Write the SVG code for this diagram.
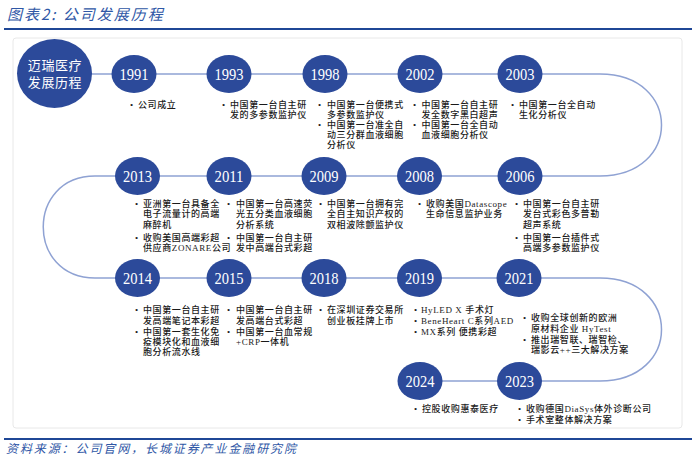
<svg xmlns="http://www.w3.org/2000/svg" width="700" height="464" viewBox="0 0 700 464">
<style>
.title{font-family:"Noto Sans CJK SC",sans-serif;font-style:italic;fill:#2f57a6;}
.node{fill:#2c4a9a;}
.yr{font-family:"Liberation Serif","DejaVu Serif",serif;font-size:17px;fill:#fff;text-anchor:middle;}
.t{font-family:"Liberation Serif","Noto Sans CJK SC",serif;font-size:9px;letter-spacing:0.6px;fill:#1a1a1a;font-weight:500;}
.conn{fill:none;stroke:#8fa2d3;stroke-width:1.5;}
</style>
<rect x="0" y="0" width="700" height="464" fill="#fff"/>
<text class="title" x="7" y="20" font-size="15" letter-spacing="2">图表2:  公司发展历程</text>
<line x1="4" y1="29" x2="692" y2="29" stroke="#1f4796" stroke-width="2"/>
<rect x="13" y="38" width="669" height="390" rx="3" fill="#fff" stroke="#e8e8e8" stroke-width="1"/>
<line x1="4" y1="439" x2="692" y2="439" stroke="#1f4796" stroke-width="2"/>
<text class="title" x="6" y="453" font-size="12" letter-spacing="1.9">资料来源：公司官网，长城证券产业金融研究院</text>

<g id="connectors">
<path class="conn" d="M54 74 L600 74 C682 74 682 176 600 176 L95 176 C26 176 26 278 95 278 L600 278 C682 278 682 381 600 381 L420 381"/>
</g>

<g id="start">
<ellipse class="node" cx="54.5" cy="73.5" rx="37.5" ry="34.5"/>
<text x="55" y="69.5" font-family="Liberation Serif,Noto Sans CJK SC,serif" font-size="13" letter-spacing="0.6" fill="#fff" text-anchor="middle">迈瑞医疗</text>
<text x="55" y="87" font-family="Liberation Serif,Noto Sans CJK SC,serif" font-size="13" letter-spacing="0.6" fill="#fff" text-anchor="middle">发展历程</text>
</g>

<g id="y1991">
<ellipse class="node" cx="134" cy="74" rx="22.5" ry="19"/>
<text class="yr" x="134" y="80" textLength="29" lengthAdjust="spacingAndGlyphs">1991</text>
<text class="t"><tspan x="130" y="107.5">•</tspan><tspan x="138">公司成立</tspan></text>
</g>
<g id="y1993">
<ellipse class="node" cx="229" cy="74" rx="22.5" ry="19"/>
<text class="yr" x="229" y="80" textLength="29" lengthAdjust="spacingAndGlyphs">1993</text>
<text class="t"><tspan x="222" y="107.5">•</tspan><tspan x="230">中国第一台自主研</tspan><tspan x="230" y="117.7">发的多参数监护仪</tspan></text>
</g>
<g id="y1998">
<ellipse class="node" cx="325" cy="74" rx="22.5" ry="19"/>
<text class="yr" x="325" y="80" textLength="29" lengthAdjust="spacingAndGlyphs">1998</text>
<text class="t"><tspan x="318" y="107.5">•</tspan><tspan x="327">中国第一台便携式</tspan><tspan x="327" y="117.7">多参数监护仪</tspan><tspan x="318" y="127.9">•</tspan><tspan x="327">中国第一台准全自</tspan><tspan x="327" y="138.1">动三分群血液细胞</tspan><tspan x="327" y="148.3">分析仪</tspan></text>
</g>
<g id="y2002">
<ellipse class="node" cx="420" cy="74" rx="22.5" ry="19"/>
<text class="yr" x="420" y="80" textLength="29" lengthAdjust="spacingAndGlyphs">2002</text>
<text class="t"><tspan x="413" y="107.5">•</tspan><tspan x="421.5">中国第一台自主研</tspan><tspan x="421.5" y="117.7">发全数字黑白超声</tspan><tspan x="413" y="127.9">•</tspan><tspan x="421.5">中国第一台全自动</tspan><tspan x="421.5" y="138.1">血液细胞分析仪</tspan></text>
</g>
<g id="y2003">
<ellipse class="node" cx="520" cy="74" rx="22.5" ry="19"/>
<text class="yr" x="520" y="80" textLength="29" lengthAdjust="spacingAndGlyphs">2003</text>
<text class="t"><tspan x="511" y="107.5">•</tspan><tspan x="519">中国第一台全自动</tspan><tspan x="519" y="117.7">生化分析仪</tspan></text>
</g>

<g id="y2013">
<ellipse class="node" cx="137.5" cy="176" rx="22.5" ry="19"/>
<text class="yr" x="137.5" y="182" textLength="29" lengthAdjust="spacingAndGlyphs">2013</text>
<text class="t"><tspan x="135" y="206.7">•</tspan><tspan x="143">亚洲第一台具备全</tspan><tspan x="143" y="217.3">电子流量计的高端</tspan><tspan x="143" y="227.7">麻醉机</tspan><tspan x="135" y="240.7">•</tspan><tspan x="143">收购美国高端彩超</tspan><tspan x="143" y="251">供应商ZONARE公司</tspan></text>
</g>
<g id="y2011">
<ellipse class="node" cx="229" cy="176" rx="22.5" ry="19"/>
<text class="yr" x="229" y="182" textLength="29" lengthAdjust="spacingAndGlyphs">2011</text>
<text class="t"><tspan x="227" y="206.7">•</tspan><tspan x="236">中国第一台高速荧</tspan><tspan x="236" y="217.3">光五分类血液细胞</tspan><tspan x="236" y="227.7">分析系统</tspan><tspan x="227" y="240.7">•</tspan><tspan x="236">中国第一台自主研</tspan><tspan x="236" y="251">发中高端台式彩超</tspan></text>
</g>
<g id="y2009">
<ellipse class="node" cx="324" cy="176" rx="22.5" ry="19"/>
<text class="yr" x="324" y="182" textLength="29" lengthAdjust="spacingAndGlyphs">2009</text>
<text class="t"><tspan x="319" y="206.7">•</tspan><tspan x="327">中国第一台拥有完</tspan><tspan x="327" y="217.3">全自主知识产权的</tspan><tspan x="327" y="227.7">双相波除颤监护仪</tspan></text>
</g>
<g id="y2008">
<ellipse class="node" cx="419.5" cy="176" rx="22.5" ry="19"/>
<text class="yr" x="419.5" y="182" textLength="29" lengthAdjust="spacingAndGlyphs">2008</text>
<text class="t"><tspan x="418" y="206.7">•</tspan><tspan x="426">收购美国Datascope</tspan><tspan x="426" y="217.3">生命信息监护业务</tspan></text>
</g>
<g id="y2006">
<ellipse class="node" cx="520" cy="176" rx="22.5" ry="19"/>
<text class="yr" x="520" y="182" textLength="29" lengthAdjust="spacingAndGlyphs">2006</text>
<text class="t"><tspan x="515" y="206.7">•</tspan><tspan x="523">中国第一台自主研</tspan><tspan x="523" y="217.3">发台式彩色多普勒</tspan><tspan x="523" y="227.7">超声系统</tspan><tspan x="515" y="240.7">•</tspan><tspan x="523">中国第一台插件式</tspan><tspan x="523" y="251">高端多参数监护仪</tspan></text>
</g>

<g id="y2014">
<ellipse class="node" cx="137.5" cy="278" rx="22.5" ry="19"/>
<text class="yr" x="137.5" y="284" textLength="29" lengthAdjust="spacingAndGlyphs">2014</text>
<text class="t"><tspan x="135" y="312.7">•</tspan><tspan x="143">中国第一台自主研</tspan><tspan x="143" y="323.5">发高端笔记本彩超</tspan><tspan x="135" y="334.5">•</tspan><tspan x="143">中国第一套生化免</tspan><tspan x="143" y="345">疫模块化和血液细</tspan><tspan x="143" y="355.3">胞分析流水线</tspan></text>
</g>
<g id="y2015">
<ellipse class="node" cx="229" cy="278" rx="22.5" ry="19"/>
<text class="yr" x="229" y="284" textLength="29" lengthAdjust="spacingAndGlyphs">2015</text>
<text class="t"><tspan x="227" y="312.7">•</tspan><tspan x="236">中国第一台自主研</tspan><tspan x="236" y="323.5">发高端台式彩超</tspan><tspan x="227" y="334.5">•</tspan><tspan x="236">中国第一台血常规</tspan><tspan x="236" y="345">+CRP一体机</tspan></text>
</g>
<g id="y2018">
<ellipse class="node" cx="324" cy="278" rx="22.5" ry="19"/>
<text class="yr" x="324" y="284" textLength="29" lengthAdjust="spacingAndGlyphs">2018</text>
<text class="t"><tspan x="319" y="312.7">•</tspan><tspan x="327">在深圳证券交易所</tspan><tspan x="327" y="323.5">创业板挂牌上市</tspan></text>
</g>
<g id="y2019">
<ellipse class="node" cx="419.5" cy="278" rx="22.5" ry="19"/>
<text class="yr" x="419.5" y="284" textLength="29" lengthAdjust="spacingAndGlyphs">2019</text>
<text class="t"><tspan x="414" y="312.7">•</tspan><tspan x="421">HyLED X 手术灯</tspan><tspan x="414" y="323.8">•</tspan><tspan x="421">BeneHeart C系列AED</tspan><tspan x="414" y="334.5">•</tspan><tspan x="421">MX系列 便携彩超</tspan></text>
</g>
<g id="y2021">
<ellipse class="node" cx="519" cy="278" rx="22.5" ry="19"/>
<text class="yr" x="519" y="284" textLength="29" lengthAdjust="spacingAndGlyphs">2021</text>
<text class="t"><tspan x="523" y="320.7">•</tspan><tspan x="531">收购全球创新的欧洲</tspan><tspan x="531" y="331.7">原材料企业 HyTest</tspan><tspan x="523" y="342.7">•</tspan><tspan x="531">推出瑞智联、瑞智检、</tspan><tspan x="531" y="352.7">瑞影云++三大解决方案</tspan></text>
</g>

<g id="y2024">
<ellipse class="node" cx="420" cy="381" rx="22.5" ry="19"/>
<text class="yr" x="420" y="387" textLength="29" lengthAdjust="spacingAndGlyphs">2024</text>
<text class="t"><tspan x="414" y="411.7">•</tspan><tspan x="422">控股收购惠泰医疗</tspan></text>
</g>
<g id="y2023">
<ellipse class="node" cx="519.5" cy="381" rx="22.5" ry="19"/>
<text class="yr" x="519.5" y="387" textLength="29" lengthAdjust="spacingAndGlyphs">2023</text>
<text class="t"><tspan x="518" y="411.7">•</tspan><tspan x="526">收购德国DiaSys体外诊断公司</tspan><tspan x="518" y="422.5">•</tspan><tspan x="526">手术室整体解决方案</tspan></text>
</g>
</svg>
